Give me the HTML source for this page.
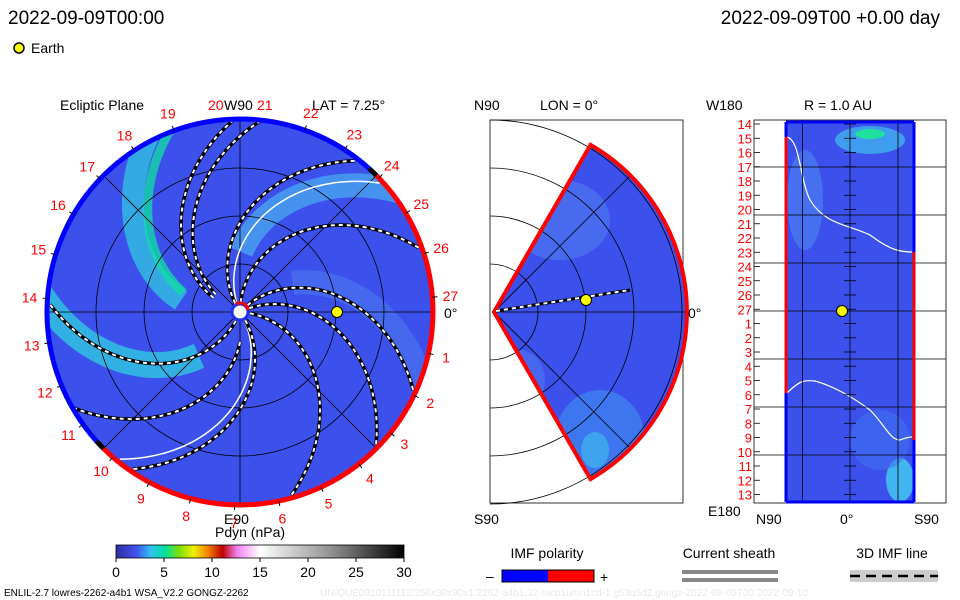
<!DOCTYPE html>
<html><head><meta charset="utf-8"><style>
body{margin:0;background:#fff;width:960px;height:600px;overflow:hidden}
svg{display:block;font-family:"Liberation Sans",sans-serif}
</style></head><body>
<svg width="960" height="600" viewBox="0 0 960 600">
<defs>
<clipPath id="cc"><circle cx="240" cy="312" r="193"/></clipPath>
<clipPath id="wc"><path d="M494,312 L590.5,144.9 A193,193 0 0 1 590.5,479.1 Z"/></clipPath>
<linearGradient id="cb" x1="0" x2="1">
<stop offset="0" stop-color="#3030a0"/><stop offset="0.07" stop-color="#4050f0"/><stop offset="0.12" stop-color="#30c0f0"/><stop offset="0.17" stop-color="#00e0a0"/><stop offset="0.22" stop-color="#80e000"/><stop offset="0.27" stop-color="#f0f000"/><stop offset="0.32" stop-color="#f08000"/><stop offset="0.37" stop-color="#c00000"/><stop offset="0.42" stop-color="#f080f0"/><stop offset="0.5" stop-color="#ffffff"/><stop offset="0.75" stop-color="#909090"/><stop offset="1" stop-color="#000"/>
</linearGradient>
</defs>
<text x="8" y="24" font-size="19">2022-09-09T00:00</text>
<text x="940" y="24" font-size="19" text-anchor="end">2022-09-09T00 +0.00 day</text>
<circle cx="19" cy="48" r="5" fill="#ff0" stroke="#000" stroke-width="1.5"/>
<text x="31" y="53" font-size="14">Earth</text>

<g>
<text x="60" y="110" font-size="14">Ecliptic Plane</text>
<text x="312" y="110" font-size="14">LAT = 7.25°</text>
<g clip-path="url(#cc)" id="bg">
<circle cx="240" cy="312" r="193" fill="#3c50ec"/>
</g>
<g id="grid" stroke="#000" stroke-width="0.8" fill="none"></g>
<g id="lines"></g>
<g id="rim"></g>
<g id="labels" font-size="14"></g>
<circle cx="240" cy="312" r="8" fill="#fff" stroke="#2030f0" stroke-width="3"/>
<path d="M236,304 A8,8 0 0 1 248,310" stroke="#f00" stroke-width="3" fill="none"/>
<circle cx="337" cy="312" r="5.5" fill="#ff0" stroke="#000"/>
<text x="208" y="110" font-size="14" fill="red">20</text><text x="224" y="110" font-size="14" fill="#000">W90</text><text x="257" y="110" font-size="14" fill="red">21</text>
<text x="224" y="524" font-size="14">E90</text>
<text x="444" y="318" font-size="14">0°</text>
</g>

<g>
<text x="474" y="110" font-size="14">N90</text>
<text x="540" y="110" font-size="14">LON = 0°</text>
<text x="474" y="524" font-size="14">S90</text>
<rect x="490" y="120" width="193" height="383" fill="#fff" stroke="#000" stroke-width="0.8"/>
<g id="mgrid" stroke="#000" stroke-width="0.8" fill="none"></g>
<g clip-path="url(#wc)" id="wbg">
<rect x="490" y="120" width="200" height="385" fill="#3c50ec"/>
<ellipse cx="560" cy="220" rx="50" ry="40" fill="#4a70f0" opacity="0.8"/>
<ellipse cx="600" cy="440" rx="45" ry="50" fill="#3f80f0" opacity="0.8"/>
<ellipse cx="595" cy="450" rx="14" ry="18" fill="#40b0f0" opacity="0.8"/>
<ellipse cx="520" cy="380" rx="25" ry="30" fill="#4a70f0" opacity="0.7"/>
<g id="wgrid" stroke="#000" stroke-width="0.8" fill="none"></g>
</g>
<path d="M494,312 L590.5,144.9 A193,193 0 0 1 590.5,479.1 Z" fill="none" stroke="#f00" stroke-width="4"/>
<line x1="496" y1="311" x2="630" y2="290" stroke="#000" stroke-width="3"/>
<line x1="496" y1="311" x2="630" y2="290" stroke="#fff" stroke-width="2" stroke-dasharray="4 4"/>
<circle cx="586" cy="300" r="5.5" fill="#ff0" stroke="#000"/>
<text x="688" y="318" font-size="14">0°</text>
</g>

<g>
<text x="706" y="110" font-size="14">W180</text>
<text x="804" y="110" font-size="14">R = 1.0 AU</text>
<text x="708" y="516" font-size="14">E180</text>
<text x="756" y="524" font-size="14">N90</text>
<text x="840" y="524" font-size="14">0°</text>
<text x="914" y="524" font-size="14">S90</text>
<rect x="754" y="120" width="192" height="383" fill="#fff" stroke="#000" stroke-width="0.8"/>
<rect x="786" y="122" width="128" height="380" fill="#3c50ec"/>
<ellipse cx="870" cy="140" rx="35" ry="14" fill="#40b0f0" opacity="0.8"/>
<ellipse cx="870" cy="134" rx="15" ry="5" fill="#20e0a0"/>
<ellipse cx="900" cy="480" rx="14" ry="22" fill="#40c0f0" opacity="0.9"/>
<ellipse cx="805" cy="200" rx="18" ry="50" fill="#4878f0" opacity="0.8"/>
<ellipse cx="880" cy="440" rx="30" ry="30" fill="#4070f0" opacity="0.6"/>
<path d="M787,137 C800,140 800,180 810,200 C825,225 850,225 870,235 C890,250 900,252 912,252" stroke="#fff" fill="none" stroke-width="1.2"/>
<path d="M787,393 C800,380 805,380 815,381 C830,385 850,395 870,410 C885,425 890,440 900,440 C905,438 908,437 912,437" stroke="#fff" fill="none" stroke-width="1.2"/>
<g id="rgrid" stroke="#000" stroke-width="0.8"></g>
<line x1="786" y1="122" x2="914" y2="122" stroke="#00f" stroke-width="3"/>
<line x1="786" y1="502" x2="914" y2="502" stroke="#00f" stroke-width="3"/>
<line x1="786" y1="122" x2="786" y2="137" stroke="#00f" stroke-width="3"/>
<line x1="786" y1="137" x2="786" y2="393" stroke="#f00" stroke-width="3"/>
<line x1="786" y1="393" x2="786" y2="502" stroke="#00f" stroke-width="3"/>
<line x1="914" y1="122" x2="914" y2="252" stroke="#00f" stroke-width="3"/>
<line x1="914" y1="252" x2="914" y2="440" stroke="#f00" stroke-width="3"/>
<line x1="914" y1="440" x2="914" y2="502" stroke="#00f" stroke-width="3"/>
<g id="rlabels" font-size="13" fill="red" text-anchor="end"></g>
<circle cx="842" cy="311" r="5.5" fill="#ff0" stroke="#000"/>
</g>

<text x="215" y="537" font-size="14">Pdyn (nPa)</text>
<rect x="116" y="545" width="288" height="13" fill="url(#cb)" stroke="#000" stroke-width="0.8"/>
<g id="cbticks" font-size="14" text-anchor="middle"></g>
<text x="547" y="558" font-size="14" text-anchor="middle">IMF polarity</text>
<text x="486" y="581" font-size="14">–</text>
<rect x="502" y="570" width="46" height="12" fill="#00f"/>
<rect x="548" y="570" width="46" height="12" fill="#f00"/>
<rect x="502" y="570" width="92" height="12" fill="none" stroke="#000"/>
<text x="600" y="582" font-size="14">+</text>
<text x="729" y="558" font-size="14" text-anchor="middle">Current sheath</text>
<rect x="682" y="570" width="96" height="4" fill="#888"/><rect x="682" y="578" width="96" height="4" fill="#888"/>
<text x="892" y="558" font-size="14" text-anchor="middle">3D IMF line</text>
<rect x="850" y="570" width="88" height="12" fill="#ccc"/>
<line x1="850" y1="576" x2="938" y2="576" stroke="#000" stroke-width="2.5" stroke-dasharray="10 6"/>
<text x="4" y="596" font-size="10">ENLIL-2.7 lowres-2262-a4b1 WSA_V2.2 GONGZ-2262</text>
<text x="320" y="596" font-size="10" fill="#e8e8e8">UNIQUE0910111112/256x30x90x1.2262-a4b1.32-mcp1umn1cd-1.g53q5d2.gongz-2022-09-09T00   2022-09-10</text>
</svg>
<script>
const NS='http://www.w3.org/2000/svg';
const cbTicks=[0,5,10,15,20,25,30];
const dayLabels=[1,2,3,4,5,6,7,8,9,10,11,12,13,14,15,16,17,18,19,22,23,24,25,26,27];
const mapLabels=[14,15,16,17,18,19,20,21,22,23,24,25,26,27,1,2,3,4,5,6,7,8,9,10,11,12,13];
// angle (deg) where each IMF line meets the outer boundary
const imfEndAngles=[92,84,52,19,-25,-45,-75,177,-125,-150];
const imfInnerRadius=[30,30,10,10,10,10,10,10,10,30];
const sheathEndAngles=[42,-130];
const bandEndAngles=[178,120,112,40,-20];
const bandColors=['#30d0e0','#30c8e0','#10e0a0','#48a8f0','#4a70f0'];
const bandWidths=[26,22,9,24,24];
const cx=240,cy=312,R=193,RATE=0.37;
function mk(t,a,p){const e=document.createElementNS(NS,t);for(const k in a)e.setAttribute(k,a[k]);(p||document.querySelector('svg')).appendChild(e);return e;}
function spiral(aEnd,r0,r1){let d='';for(let r=r0;r<=r1;r+=3){const ph=(aEnd+(192-r)*RATE)*Math.PI/180;d+=(d?'L':'M')+(cx+r*Math.cos(ph)).toFixed(1)+','+(cy-r*Math.sin(ph)).toFixed(1);}return d;}
const bg=document.getElementById('bg');
bandEndAngles.forEach((a,i)=>{const p=mk('path',{d:spiral(a,60,205),stroke:bandColors[i],'stroke-width':bandWidths[i],fill:'none',opacity:0.75},bg);

});
const g=document.getElementById('grid');
[48,96,144].forEach(r=>mk('circle',{cx,cy,r},g));
[0,45,90,135].forEach(a=>{const t=a*Math.PI/180;mk('line',{x1:cx-R*Math.cos(t),y1:cy-R*Math.sin(t),x2:cx+R*Math.cos(t),y2:cy+R*Math.sin(t)},g);});
const L=document.getElementById('lines');
sheathEndAngles.forEach(a=>{const p=mk('path',{d:spiral(a,10,192),stroke:'#fff','stroke-width':1.5,fill:'none'},L);

});
imfEndAngles.forEach((a,i)=>{const d=spiral(a,imfInnerRadius[i],192);
const p=mk('path',{d,stroke:'#000','stroke-width':3.5,fill:'none'},L);


mk('path',{d,stroke:'#fff','stroke-width':2,fill:'none','stroke-dasharray':'4 4'},L);});
const rim=document.getElementById('rim');
function arc(a1,a2,col){const t1=a1*Math.PI/180,t2=a2*Math.PI/180;const large=Math.abs(a2-a1)>180?1:0;
return mk('path',{d:`M${cx+R*Math.cos(t1)},${cy-R*Math.sin(t1)} A${R},${R} 0 ${large} 0 ${cx+R*Math.cos(t2)},${cy-R*Math.sin(t2)}`,stroke:col,'stroke-width':5,fill:'none'},rim);}
const ab=arc(48,222,'#0000ff');
const ar=arc(225,405,'#ff0000');
arc(222,225,'#000');arc(45,48,'#000');
const lab=document.getElementById('labels');
dayLabels.forEach(n=>{const a=(-13.2*n+0.8)*Math.PI/180;const r=211;
const t=mk('text',{x:cx+r*Math.cos(a),y:cy-r*Math.sin(a)+5,fill:'red','text-anchor':'middle'},lab);t.textContent=n;


mk('line',{x1:cx+R*Math.cos(a),y1:cy-R*Math.sin(a),x2:cx+(R+5)*Math.cos(a),y2:cy-(R+5)*Math.sin(a),stroke:'#000'},lab);});
const mg=document.getElementById('mgrid'),wg=document.getElementById('wgrid');
[48,96,144,192].forEach(r=>{mk('path',{d:`M490,${312-r} A${r},${r} 0 0 1 490,${312+r}`},mg);mk('path',{d:`M490,${312-r} A${r},${r} 0 0 1 490,${312+r}`},wg);});
mk('line',{x1:494,y1:312,x2:690,y2:312},wg);
mk('line',{x1:494,y1:312,x2:630,y2:176},wg);mk('line',{x1:494,y1:312,x2:630,y2:448},wg);
const rg=document.getElementById('rgrid');
[167,215,263,311,359,407,455].forEach(y=>mk('line',{x1:754,y1:y,x2:946,y2:y},rg));
[802.5,850,898].forEach(x=>mk('line',{x1:x,y1:120,x2:x,y2:503},rg));
const rl=document.getElementById('rlabels');
mapLabels.forEach((n,i)=>{const y=124+i*14.25;const t=mk('text',{x:752,y:y+5},rl);t.textContent=n;


mk('line',{x1:754,y1:y,x2:760,y2:y,stroke:'#000'},rg);mk('line',{x1:844,y1:y,x2:856,y2:y,stroke:'#000'},rg);});
const cbt=document.getElementById('cbticks');
cbTicks.forEach(v=>{const x=116+v/30*288;mk('line',{x1:x,y1:558,x2:x,y2:562,stroke:'#000'},cbt);
const t=mk('text',{x,y:577},cbt);t.textContent=v;

});
</script>
</body></html>
